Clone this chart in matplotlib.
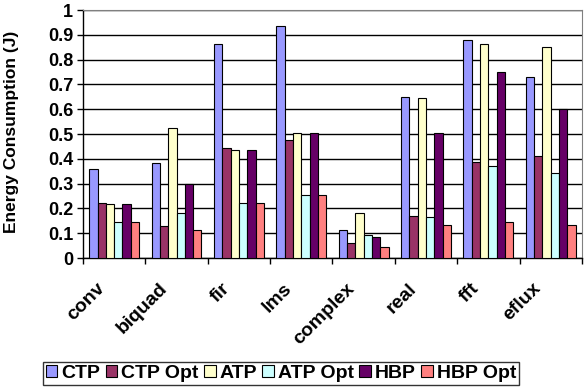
import numpy as np
import matplotlib.pyplot as plt
import matplotlib.transforms as mtransforms

plt.rcParams['font.family'] = ['Liberation Sans', 'DejaVu Sans']
plt.rcParams['font.weight'] = 'bold'

benchmarks = ['conv', 'biquad', 'fir', 'lms', 'complex', 'real', 'fft', 'eflux']
series = ['CTP', 'CTP Opt', 'ATP', 'ATP Opt', 'HBP', 'HBP Opt']

ctp     = [0.361, 0.385, 0.864, 0.936, 0.113, 0.649, 0.880, 0.731]
ctp_opt = [0.220, 0.131, 0.442, 0.477, 0.059, 0.169, 0.388, 0.411]
atp     = [0.216, 0.526, 0.434, 0.505, 0.183, 0.644, 0.862, 0.851]
atp_opt = [0.146, 0.182, 0.220, 0.256, 0.091, 0.165, 0.371, 0.341]
hbp     = [0.216, 0.297, 0.434, 0.505, 0.083, 0.505, 0.751, 0.601]
hbp_opt = [0.146, 0.111, 0.220, 0.256, 0.043, 0.132, 0.144, 0.132]

values = [ctp, ctp_opt, atp, atp_opt, hbp, hbp_opt]
colors = ['#9999FF', '#993366', '#FFFFCC', '#CCFFFF', '#660066', '#FF8080']

fig = plt.figure(figsize=(5.86, 3.87), dpi=100)
ax = fig.add_axes([0.1416, 0.3333, 0.8514, 0.6407])

x = np.arange(len(benchmarks))
w = 0.8 / len(series)
for i, (name, vals, c) in enumerate(zip(series, values, colors)):
    ax.bar(x - 0.4 + w * (i + 0.5), vals, w, color=c, edgecolor='black',
           linewidth=0.8, label=name, zorder=3)

ax.set_xlim(-0.5, len(benchmarks) - 0.5)
ax.set_ylim(0, 1)
ax.set_yticks(np.arange(0, 1.01, 0.1))
ax.set_yticklabels(['0', '0.1', '0.2', '0.3', '0.4', '0.5', '0.6', '0.7', '0.8', '0.9', '1'])
ax.yaxis.grid(True, color='black', linewidth=1, zorder=0)
ax.tick_params(axis='y', direction='out', length=4, width=1, labelsize=13, pad=3)

# category boundary ticks on x axis, labels at centres
ax.set_xticks(np.arange(-0.5, len(benchmarks)))
ax.set_xticklabels([])
ax.tick_params(axis='x', direction='out', length=4, width=1, color='black')
ax.set_xticks(x, minor=True)
ax.set_xticklabels(benchmarks, minor=True, rotation=45, ha='right', va='center',
                   rotation_mode='anchor', fontsize=14, fontweight='bold')
ax.tick_params(axis='x', which='minor', length=0, pad=0)
shift = mtransforms.ScaledTranslation(-0.12, -0.28, fig.dpi_scale_trans)
for lbl in ax.get_xticklabels(minor=True):
    lbl.set_transform(lbl.get_transform() + shift)

ax.set_ylabel('Energy Consumption (J)', fontsize=12.5, fontweight='bold')
ax.yaxis.set_label_coords(-0.128, 0.51)

for s in ['top', 'right']:
    ax.spines[s].set_color('#808080')
for s in ['left', 'bottom']:
    ax.spines[s].set_color('black')
    ax.spines[s].set_linewidth(1)

leg = fig.legend(loc='lower left', bbox_to_anchor=(0.073, 0.005, 0.813, 0.073),
                 mode='expand', ncol=6, fontsize=14, frameon=True, fancybox=False,
                 edgecolor='black', handlelength=0.6, handleheight=0.6,
                 handletextpad=0.2, columnspacing=0.3, borderpad=0.15,
                 borderaxespad=0)
leg.get_frame().set_linewidth(1)

fig.savefig('out.png', dpi=100)
